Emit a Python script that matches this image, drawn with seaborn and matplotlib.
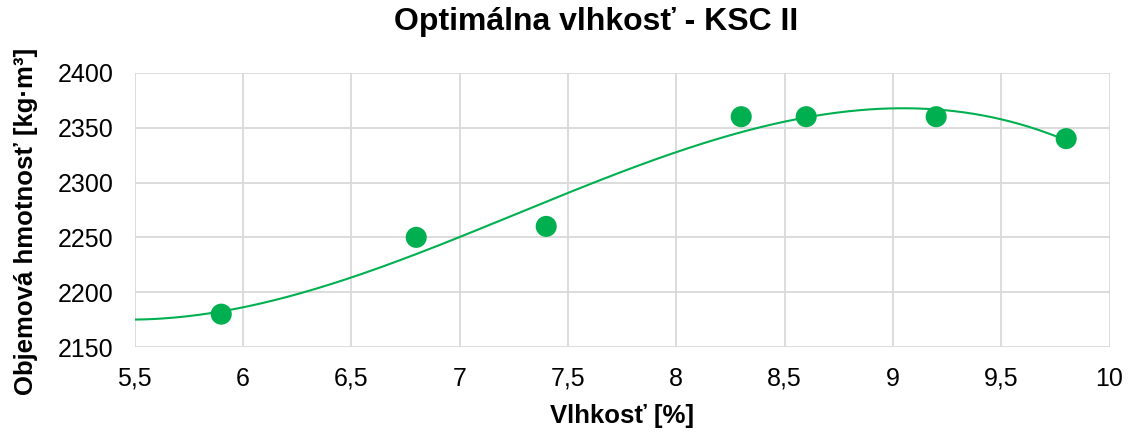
import numpy as np
import pandas as pd
import matplotlib
matplotlib.use("Agg")
import matplotlib.pyplot as plt
import seaborn as sns
from matplotlib.ticker import FuncFormatter

# Measured points: moisture [%] vs. bulk density [kg/m3]
moisture = [5.9, 6.8, 7.4, 8.3, 8.6, 9.2, 9.8]
density = [2180, 2250, 2260, 2360, 2360, 2360, 2340]
x_ticks = [5.5, 6, 6.5, 7, 7.5, 8, 8.5, 9, 9.5, 10]
y_ticks = [2150, 2200, 2250, 2300, 2350, 2400]

sns.set_theme(style="white")
plt.rcParams["font.family"] = ["Liberation Sans", "DejaVu Sans"]
plt.rcParams["text.color"] = "black"
plt.rcParams["axes.labelcolor"] = "black"

green = "#00B050"
df = pd.DataFrame({"x": moisture, "y": density})

fig = plt.figure(figsize=(11.31, 4.36), dpi=100)
ax = fig.add_axes([0.119, 0.204, 0.862, 0.629])

# Polynomial trend line (3rd order), extended back to the axis start
coef = np.polyfit(moisture, density, 3)
xs = np.linspace(5.5, max(moisture), 300)
trend = pd.DataFrame({"x": xs, "y": np.polyval(coef, xs)})
sns.lineplot(data=trend, x="x", y="y", ax=ax, color=green, linewidth=1.5, zorder=3)

sns.scatterplot(data=df, x="x", y="y", ax=ax, color=green, s=230,
                edgecolor="none", zorder=4)

ax.set_xlim(5.5, 10)
ax.set_ylim(2150, 2400)
ax.set_xticks(x_ticks)
ax.set_yticks(y_ticks)
ax.xaxis.set_major_formatter(FuncFormatter(lambda v, p: f"{v:g}".replace(".", ",")))
ax.grid(True, color="#D9D9D9", linewidth=1.3)
ax.set_axisbelow(True)
for s in ax.spines.values():
    s.set_visible(False)
ax.tick_params(axis="x", labelsize=18, length=0, pad=14, colors="black")
ax.tick_params(axis="y", labelsize=18, length=0, pad=15, colors="black")

ax.set_xlabel("Vlhkosť [%]", fontsize=18.5, fontweight="bold", labelpad=10, color="black")
ax.set_ylabel("Objemová hmotnosť [kg·m³]", fontsize=18.5, fontweight="bold", color="black")
ax.yaxis.set_label_coords(-0.099, 0.457)
fig.text(0.527, 0.95, "Optimálna vlhkosť - KSC II", fontsize=23, fontweight="bold",
         color="black", ha="center", va="center")

fig.savefig("out.png", dpi=100)
